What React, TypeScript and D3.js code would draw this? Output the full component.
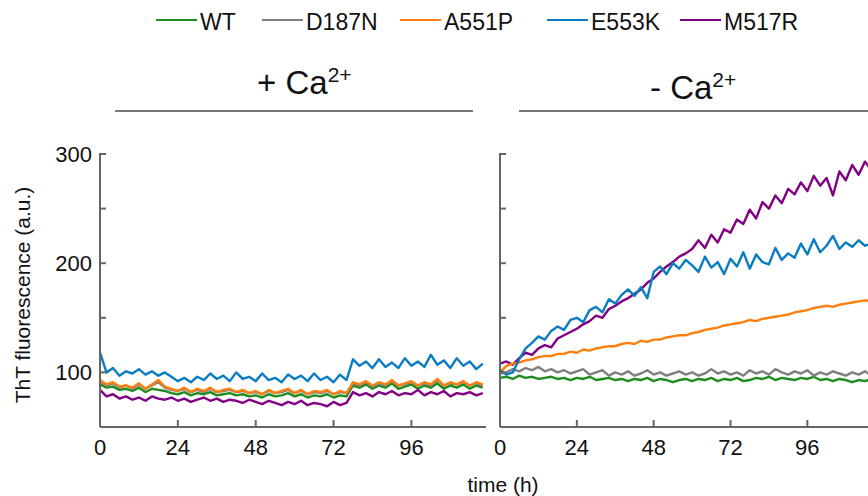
import React from 'react';
import * as d3 from 'd3';

// sampling times (h), every 2 h
const hours = d3.range(0, 120, 2);

const seriesNames = ['WT', 'D187N', 'A551P', 'E553K', 'M517R'];
const seriesColors = ['#1e8c1e', '#808080', '#ff7f0e', '#0a7dc2', '#820082'];

// + Ca2+
const wtPlus = [89,86,87,84,85,83,86,82,85,84, 83,81,80,82,79,81,80,82,79,80, 81,79,80,78,79,77,80,78,79,81, 78,80,77,79,78,80,77,79,78,88, 86,89,85,88,86,90,85,87,89,85, 88,86,90,85,88,86,89,85,88,86];
const d187nPlus = [92,88,90,86,88,85,89,85,88,91, 86,84,83,85,82,84,82,85,82,83, 84,82,83,81,82,80,83,81,82,84, 81,83,80,82,81,83,80,82,81,90, 88,91,87,90,88,92,88,89,91,88, 90,88,93,88,90,89,91,88,90,88];
const a551pPlus = [93,89,91,87,88,86,90,85,89,93, 87,85,83,86,82,85,83,86,82,84, 85,82,84,81,83,80,84,81,83,85, 81,84,80,83,82,84,80,83,81,91, 89,92,88,91,89,93,88,90,92,88, 91,89,94,88,91,89,92,88,91,89];
const e553kPlus = [118,100,104,97,101,99,103,98,101,97, 100,96,92,95,91,96,93,99,94,97, 92,100,94,96,92,99,93,95,91,98, 94,97,92,99,93,96,91,98,93,112, 106,110,104,112,105,109,104,113,106,110, 105,116,107,111,104,113,106,110,103,108];
const m517rPlus = [84,78,80,76,78,75,77,74,78,76, 75,77,74,76,73,75,77,74,76,73, 75,74,72,75,73,71,74,72,70,73, 71,74,70,72,71,69,73,70,72,82, 79,81,78,82,80,83,79,81,80,84, 79,82,80,83,78,81,80,82,79,81];

// - Ca2+
const wtMinus = [95,96,94,97,95,96,94,95,96,94, 95,93,95,94,96,93,94,95,93,94, 92,94,93,95,92,94,93,91,93,94, 92,94,93,95,92,94,93,95,92,93, 95,94,96,93,95,94,93,95,94,96, 93,94,92,94,93,91,93,92,94,92];
const d187nMinus = [99,100,103,101,104,102,105,101,103,100, 102,99,101,103,98,100,102,97,100,98, 101,97,99,102,98,100,97,99,101,98, 100,97,99,103,99,101,98,100,97,102, 99,101,98,103,100,98,101,99,102,97, 100,98,101,99,97,100,98,101,97,99];
const a551pMinus = [100,106,108,109,111,112,114,115,115,117, 117,119,118,121,120,122,123,124,124,126, 127,126,129,128,130,130,132,133,134,134, 136,137,139,140,141,143,144,145,146,148, 147,149,150,151,152,153,155,156,157,159, 160,161,160,162,163,164,165,166,165,167];
const e553kMinus = [102,98,100,112,122,127,133,130,138,142, 139,148,150,146,157,160,155,167,163,171, 176,170,178,168,192,197,190,200,195,203, 198,192,206,196,201,190,204,197,210,195, 208,201,199,214,203,209,205,218,208,222, 210,216,225,213,219,215,221,216,218,220];
const m517rMinus = [108,110,107,113,118,116,122,125,123,131, 134,137,140,144,147,152,150,158,161,165, 168,172,176,182,186,192,197,201,206,209, 213,221,214,226,219,231,228,240,236,249, 241,256,250,262,255,268,263,274,266,280, 271,278,262,284,276,290,281,293,285,296];

const xTicks = [0, 24, 48, 72, 96];
const yTicks = [50, 100, 150, 200, 250, 300];
const yLabels = [100, 200, 300];

const FONT = '"Liberation Sans", Arial, sans-serif';
const AXIS = '#666';

const y = d3.scaleLinear().domain([50, 300]).range([427, 154]);

const panels = [
  { key: 'plus', title: '+ Ca', tx: 257, ty: 94, lineX: [115, 473], range: [100, 486], labels: true,
    values: [wtPlus, d187nPlus, a551pPlus, e553kPlus, m517rPlus] },
  { key: 'minus', title: '- Ca', tx: 650, ty: 99, lineX: [519, 900], range: [500, 881], labels: false,
    values: [wtMinus, d187nMinus, a551pMinus, e553kMinus, m517rMinus] },
];

// draw order: WT, D187N, M517R, A551P, E553K
const drawOrder = [0, 1, 4, 2, 3];

function Panel({ p }: { p: typeof panels[number] }) {
  const x = d3.scaleLinear().domain([0, 119]).range(p.range);
  const line = d3.line<number>().x((_, i) => x(hours[i])).y((d) => y(d));
  const x0 = p.range[0];
  const yBottom = y(50);
  return (
    <g>
      <text x={p.tx} y={p.ty} fontSize={33} fontFamily={FONT} fill="#111">
        {p.title}
        <tspan fontSize={21} dy={-12}>2+</tspan>
      </text>
      <line x1={p.lineX[0]} x2={p.lineX[1]} y1={111} y2={111} stroke="#777" strokeWidth={2} />
      {drawOrder.map((si) => (
        <path key={si} d={line(p.values[si]) || ''} fill="none" stroke={seriesColors[si]} strokeWidth={2.4} strokeLinejoin="round" />
      ))}
      <line x1={x0} x2={x0} y1={y(300) - 1} y2={yBottom} stroke={AXIS} strokeWidth={2} />
      <line x1={x0} x2={p.range[1]} y1={yBottom} y2={yBottom} stroke={AXIS} strokeWidth={2} />
      {yTicks.map((t) => (
        <line key={t} x1={x0} x2={x0 + 6} y1={y(t)} y2={y(t)} stroke={AXIS} strokeWidth={2} />
      ))}
      {xTicks.filter((t) => t > 0).map((t) => (
        <line key={t} x1={x(t)} x2={x(t)} y1={yBottom} y2={yBottom - 7} stroke={AXIS} strokeWidth={2} />
      ))}
      {p.labels && yLabels.map((t) => (
        <text key={t} x={x0 - 8} y={y(t) + 8} textAnchor="end" fontSize={22} fontFamily={FONT} fill="#111">{t}</text>
      ))}
      {xTicks.map((t) => (
        <text key={t} x={x(t)} y={455} textAnchor="middle" fontSize={22} fontFamily={FONT} fill="#111">{t}</text>
      ))}
    </g>
  );
}

const legendX = [156, 262, 400, 547, 680];

export default function App() {
  return (
    <svg width={868} height={496} style={{ position: 'absolute', left: 0, top: 0, display: 'block', background: '#fff' }}>
      {seriesNames.map((name, i) => (
        <g key={name}>
          <line x1={legendX[i]} x2={legendX[i] + 41} y1={20} y2={20} stroke={seriesColors[i]} strokeWidth={2} />
          <text x={legendX[i] + 44} y={30} fontSize={23} fontFamily={FONT} fill="#111">{name}</text>
        </g>
      ))}
      {panels.map((p) => <Panel key={p.key} p={p} />)}
      <text transform="translate(30,295) rotate(-90)" textAnchor="middle" fontSize={21} fontFamily={FONT} fill="#111">
        ThT fluorescence (a.u.)
      </text>
      <text x={503} y={492} textAnchor="middle" fontSize={21} fontFamily={FONT} fill="#111">time (h)</text>
    </svg>
  );
}
